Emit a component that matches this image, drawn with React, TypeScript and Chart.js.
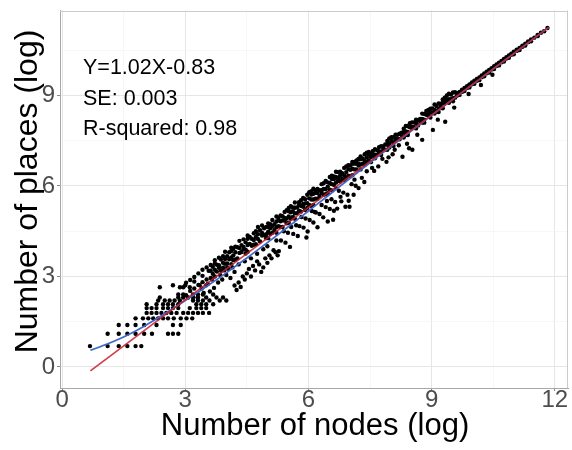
import React, { useEffect, useRef } from "react";
import { Chart, registerables } from "chart.js";

Chart.register(...registerables);

const FONT = '"Liberation Sans", Arial, Helvetica, sans-serif';

// axis ticks
const xTickValues = [0, 3, 6, 9, 12];
const yTickValues = [0, 3, 6, 9];
const xMinorValues = [1.5, 4.5, 7.5, 10.5];
const yMinorValues = [1.5, 4.5, 7.5, 10.5];

// texts
const xTitle = "Number of nodes (log)";
const yTitle = "Number of places (log)";
const annotationLines = ["Y=1.02X-0.83", "SE: 0.003", "R-squared: 0.98"];

// low-count lattice: [places (log), nodes (log) list]
const latticeRows: [number, number[]][] = [
  [0.69, [0.68, 1.11, 1.38, 1.59, 1.79, 1.93]],
  [1.1, [1.11, 1.38, 1.59, 1.79, 2.0, 2.19, 2.58, 2.7, 2.83]],
  [1.39, [1.38, 1.59, 1.79, 2.0, 2.3, 2.7, 2.89]],
  [1.61, [1.79, 1.97, 2.1, 2.22, 2.34, 2.46, 2.58, 2.72, 2.89, 3.03, 3.17]],
  [1.79, [2.06, 2.18, 2.3, 2.42, 2.54, 2.66, 2.79, 2.95, 3.07, 3.19, 3.31, 3.43, 3.58]],
  [1.95, [2.06, 2.18, 2.3, 2.46, 2.58, 2.7, 2.83, 3.11, 3.27, 3.39, 3.51]],
  [2.08, [2.06, 2.3, 2.46, 2.58, 2.7, 2.83, 3.27, 3.39, 3.51, 3.68]],
  [2.2, [2.34, 2.5, 2.62, 2.74, 2.87, 3.19, 3.31, 3.43, 3.59, 3.84, 4.0]],
  [2.3, [2.38, 2.83, 2.95, 3.07, 3.19, 3.31, 3.51, 3.76, 3.92]],
  [2.4, [2.83, 2.95, 3.19, 3.31, 3.43, 3.68]],
  [2.64, [2.38, 2.87, 2.95, 3.11]],
  [2.71, [2.7, 3.0, 3.35, 3.51]],
];

// main band: [nodes (log), places (log) list]
const bandColumns: [number, number[]][] = [
  [3.02, [2.38, 2.79]], [3.12, [2.52, 2.88]], [3.22, [2.6, 2.83, 2.98]], [3.32, [2.72, 3.1]],
  [3.42, [2.81, 3.02, 3.22]], [3.52, [2.9, 3.3]], [3.57, [3.19]],
  [3.62, [2.95, 3.19, 3.38]], [3.67, [3.09, 3.32]], [3.72, [3.0, 3.22, 3.43, 3.54]],
  [3.77, [3.16, 3.39]], [3.82, [3.29, 3.37, 3.62]], [3.87, [3.19, 3.56]],
  [3.92, [3.29, 3.45, 3.67]], [3.97, [3.42, 3.58, 3.82]], [4.02, [3.3, 3.43, 3.67]],
  [4.07, [3.57, 3.8]], [4.12, [3.41, 3.63, 3.84, 3.95]], [4.17, [3.54, 3.7, 3.92]],
  [4.22, [3.56, 3.8, 3.99]], [4.27, [3.6, 3.97]], [4.32, [3.78, 3.94, 4.18]],
  [4.37, [3.81, 4.04]], [4.42, [3.9, 3.98, 4.23]], [4.47, [3.76, 3.89, 4.13]],
  [4.52, [3.82, 4.04, 4.25, 4.36]], [4.57, [4.08, 4.31]], [4.62, [4.02, 4.25]],
  [4.67, [4.05, 4.21, 4.43]], [4.72, [4.07, 4.31, 4.5]], [4.77, [4.24, 4.4, 4.64]],
  [4.82, [4.16, 4.53]], [4.87, [4.36, 4.44, 4.69]], [4.92, [4.37, 4.6]],
  [4.97, [4.27, 4.4, 4.64]],
  [5.02, [4.27, 4.48, 4.65, 4.76]], [5.07, [4.41, 4.6, 4.73]], [5.12, [4.45, 4.67, 4.87]],
  [5.17, [4.54, 4.73]], [5.22, [4.45, 4.63, 4.82, 4.99]], [5.27, [4.67, 4.86, 4.95]],
  [5.32, [4.64, 4.83, 5.02]], [5.37, [4.64, 4.86, 5.0]], [5.42, [4.85, 4.94, 5.14]],
  [5.47, [4.76, 4.92, 5.2]], [5.52, [4.78, 4.99, 5.16, 5.27]], [5.57, [4.91, 5.13, 5.33]],
  [5.62, [4.97, 5.16, 5.29]], [5.67, [4.91, 5.09, 5.28, 5.45]], [5.72, [5.1, 5.29]],
  [5.77, [5.18, 5.37, 5.46]], [5.82, [5.15, 5.34, 5.53]], [5.87, [5.31, 5.4, 5.6]],
  [5.92, [5.2, 5.42, 5.56]], [5.97, [5.27, 5.43, 5.71]], [6.02, [5.37, 5.59, 5.79]],
  [6.07, [5.34, 5.55, 5.72, 5.83]], [6.12, [5.37, 5.55, 5.74, 5.91]], [6.17, [5.58, 5.77, 5.86]],
  [6.22, [5.58, 5.77, 5.9]], [6.27, [5.67, 5.86]], [6.32, [5.77, 5.86, 6.06]],
  [6.37, [5.71, 5.9, 6.09]], [6.42, [5.73, 5.89, 6.17]], [6.47, [5.76, 5.98, 6.12]],
  [6.52, [5.88, 6.1, 6.3]], [6.57, [5.85, 6.06, 6.23, 6.34]], [6.62, [6.04, 6.23, 6.32]],
  [6.67, [5.93, 6.11, 6.3, 6.47]], [6.72, [6.17, 6.26, 6.46]], [6.77, [6.15, 6.34, 6.47]],
  [6.82, [6.23, 6.42]], [6.87, [6.19, 6.35, 6.6]], [6.92, [6.27, 6.46, 6.65]],
  [6.97, [6.34, 6.56, 6.69]], [7.02, [6.32, 6.54, 6.68]], [7.07, [6.36, 6.57, 6.74, 6.8]],
  [7.12, [6.55, 6.74, 6.8]], [7.17, [6.55, 6.74, 6.85]], [7.22, [6.68, 6.75, 6.9]],
  [7.27, [6.55, 6.71, 6.89, 6.98]], [7.32, [6.74, 6.91]], [7.37, [6.7, 6.84, 7.05]],
  [7.42, [6.78, 6.95, 7.1]], [7.47, [6.85, 7.04, 7.13]],
  [7.52, [6.79, 6.96, 7.08]], [7.57, [7.03, 7.16]], [7.62, [6.92, 7.04, 7.22]],
  [7.67, [7.04, 7.19]], [7.72, [7.1, 7.15, 7.29]], [7.77, [7.03, 7.13, 7.32]],
  [7.82, [7.23, 7.31]], [7.87, [7.2, 7.38]], [7.92, [7.2, 7.37, 7.49]],
  [7.97, [7.28, 7.4, 7.58]], [8.02, [7.49, 7.62]], [8.07, [7.33, 7.43, 7.62]],
  [8.12, [7.51, 7.56, 7.7]], [8.17, [7.55, 7.7]], [8.22, [7.55, 7.73]],
  [8.27, [7.69, 7.77]], [8.32, [7.61, 7.78, 7.9]], [8.37, [7.69, 7.81, 7.99]],
  [8.42, [7.69, 7.79, 7.98]], [8.47, [7.95, 8.08]], [8.52, [7.92, 7.97, 8.11]],
  [8.57, [7.96, 8.11]], [8.62, [7.91, 8.08, 8.2]], [8.67, [8.01, 8.19]],
  [8.72, [8.14, 8.22]], [8.77, [8.1, 8.22, 8.4]], [8.82, [8.1, 8.2, 8.39]],
  [8.87, [8.36, 8.49]], [8.92, [8.33, 8.38, 8.52]], [8.97, [8.27, 8.44, 8.56]],
  [9.02, [8.42, 8.57]], [9.07, [8.4, 8.52, 8.7]], [9.12, [8.47, 8.65]],
  [9.17, [8.45, 8.55, 8.74]], [9.22, [8.65, 8.73]], [9.27, [8.58, 8.75, 8.87]],
  [9.32, [8.74, 8.79, 8.93]], [9.37, [8.87, 9.0]], [9.42, [8.76, 8.88, 9.06]],
  [9.47, [8.88, 9.03]], [9.52, [8.81, 8.91, 9.1]], [9.57, [8.93, 9.11]],
  [9.62, [9.0, 9.08]], [9.68, [9.02, 9.12]], [9.74, [9.12, 9.19]], [9.8, [9.15, 9.25]],
  [9.86, [9.25, 9.31]], [9.92, [9.27, 9.37]], [9.98, [9.37, 9.43]], [10.04, [9.39, 9.49]],
  [10.1, [9.49, 9.55]], [10.16, [9.51, 9.6]], [10.22, [9.61, 9.67]], [10.28, [9.64, 9.73]],
  [10.34, [9.74, 9.79]], [10.4, [9.76, 9.85]], [10.46, [9.86, 9.91]], [10.52, [9.88, 9.97]],
  [10.58, [9.98, 10.03]], [10.64, [10.0, 10.09]], [10.7, [10.1, 10.15]], [10.76, [10.13, 10.21]],
  [10.82, [10.23, 10.27]], [10.88, [10.25, 10.33]], [10.94, [10.35, 10.39]], [11.0, [10.37, 10.45]],
  [11.07, [10.48, 10.52]], [11.14, [10.51, 10.58]], [11.21, [10.62, 10.65]], [11.28, [10.66, 10.72]],
  [11.35, [10.77, 10.79]], [11.42, [10.8, 10.86]], [11.5, [10.92]], [11.58, [10.97, 11.01]],
  [11.66, [11.08]], [11.74, [11.13]], [11.82, [11.24]],
];

// scattered points below the band: [nodes (log), places (log)]
const lowerCloud: [number, number][] = [
  [3.3, 2.3], [3.45, 2.45], [3.6, 2.5], [3.7, 2.62], [3.55, 2.75], [3.8, 2.8], [3.9, 2.9],
  [4.0, 3.05], [4.1, 2.95], [4.2, 2.7], [4.25, 2.55], [4.3, 2.8], [4.35, 2.65], [4.4, 3.0],
  [4.45, 2.9], [4.5, 3.1], [4.55, 3.25], [4.6, 3.0], [4.2, 3.15], [4.65, 3.35], [4.7, 3.2],
  [4.75, 3.5], [4.8, 3.4], [4.9, 3.3], [4.95, 3.6], [5.0, 3.45], [5.05, 3.7], [3.95, 3.2],
  [4.05, 3.25], [4.15, 3.3], [4.3, 3.4], [4.45, 3.5], [4.6, 3.6], [4.75, 3.75], [4.9, 3.9],
  [5.0, 4.0], [4.85, 3.15], [5.1, 3.6], [5.2, 3.8], [5.25, 3.7], [3.4, 2.6], [3.65, 2.9],
  [3.85, 3.05],
  [5.15, 3.87], [5.22, 4.19], [5.28, 3.84], [5.33, 4.19], [5.4, 4.5], [5.44, 4.12], [5.5, 4.45],
  [5.55, 3.98], [5.58, 4.64], [5.63, 4.41], [5.7, 4.7], [5.74, 4.34], [5.78, 4.67], [5.83, 4.97],
  [5.88, 4.62], [5.93, 4.92], [5.98, 4.49], [6.03, 4.87], [6.08, 5.17], [6.12, 4.79], [6.18, 5.12],
  [6.22, 4.63], [6.27, 5.07], [6.32, 5.37], [6.36, 4.96], [6.42, 5.3], [6.47, 4.82], [6.52, 5.24],
  [6.56, 5.56], [6.6, 4.88], [6.65, 5.47], [6.7, 5.25], [6.74, 5.84], [6.8, 5.49], [6.85, 5.78],
  [6.9, 5.31], [6.95, 5.71], [7.0, 5.31], [7.05, 6.06], [7.1, 5.71], [7.15, 6.01], [7.22, 5.93],
  [7.3, 6.27], [7.36, 6.13], [7.42, 6.49], [5.95, 4.29], [6.15, 5.14], [6.45, 5.5], [6.62, 5.18],
  [6.78, 5.64], [6.98, 5.51], [7.12, 6.21],
  [7.6, 6.5], [7.7, 6.65], [7.9, 6.8], [7.95, 6.95], [8.05, 7.05], [8.1, 7.2], [8.29, 6.97],
  [8.4, 7.4], [8.45, 7.25], [8.53, 7.2], [8.65, 7.7], [8.77, 7.53], [9.03, 7.86], [9.15, 8.2],
  [9.33, 8.13], [9.55, 8.6], [9.9, 9.05], [10.2, 9.35], [10.48, 9.69], [7.55, 6.6], [7.8, 6.9],
  [8.2, 7.35],
];

// linear fit (red) endpoints
const fitX = [0.69, 11.85];
const fitY = [-0.13, 11.26];

// smooth (blue) curve
const smoothX = [0.69, 1.1, 1.6, 2.0, 2.5, 3.0, 3.5, 4.0, 4.5, 5.0, 5.5, 6.0, 6.5, 7.0, 7.5, 8.0, 9.0, 10.0, 11.0, 11.85];
const smoothY = [0.55, 0.76, 1.06, 1.35, 1.76, 2.2, 2.65, 3.12, 3.61, 4.12, 4.64, 5.17, 5.7, 6.24, 6.77, 7.3, 8.34, 9.37, 10.39, 11.26];

const isIn = (arr: number[], v: number) => arr.some((a) => Math.abs(a - v) < 1e-6);

export default function App() {
  const ref = useRef<HTMLCanvasElement | null>(null);

  useEffect(() => {
    document.body.style.margin = "0";
    const canvas = ref.current;
    if (!canvas) return;

    const scatterData = [
      ...latticeRows.flatMap(([y, xs]) => xs.map((x) => ({ x, y }))),
      ...bandColumns.flatMap(([x, ys]) => ys.map((y) => ({ x, y }))),
      ...lowerCloud.map(([x, y]) => ({ x, y })),
    ];
    const fitData = fitX.map((x, i) => ({ x, y: fitY[i] }));
    const smoothData = smoothX.map((x, i) => ({ x, y: smoothY[i] }));

    const decor = {
      id: "decor",
      beforeDatasetsDraw(chart: any) {
        const { ctx, chartArea: a } = chart;
        ctx.save();
        ctx.strokeStyle = "#cccccc";
        ctx.lineWidth = 1;
        ctx.beginPath();
        ctx.moveTo(a.left, Math.round(a.top) + 0.5);
        ctx.lineTo(a.right, Math.round(a.top) + 0.5);
        ctx.moveTo(Math.round(a.right) - 0.5, a.top);
        ctx.lineTo(Math.round(a.right) - 0.5, a.bottom);
        ctx.stroke();
        ctx.restore();
      },
      afterDraw(chart: any) {
        const { ctx, chartArea: a } = chart;
        ctx.save();
        ctx.fillStyle = "#000";
        ctx.textAlign = "left";
        ctx.textBaseline = "alphabetic";
        ctx.font = `21.5px ${FONT}`;
        annotationLines.forEach((t, i) => {
          ctx.fillText(t, a.left + 23, a.top + 63.5 + i * 30.5);
        });
        ctx.textAlign = "center";
        ctx.font = `31px ${FONT}`;
        ctx.fillText(xTitle, (a.left + a.right) / 2 + 1, 435);
        ctx.translate(36.5, 191.5);
        ctx.rotate(-Math.PI / 2);
        ctx.font = `32px ${FONT}`;
        ctx.fillText(yTitle, 0, 0);
        ctx.restore();
      },
    };

    const gridColor = (major: number[]) => (c: any) =>
      c.tick && isIn(major, c.tick.value) ? "#e6e6e6" : "#f1f1f1";
    const gridWidth = (major: number[]) => (c: any) =>
      c.tick && isIn(major, c.tick.value) ? 1 : 0.6;
    const tickColor = (major: number[]) => (c: any) =>
      c.tick && isIn(major, c.tick.value) ? "#888888" : "rgba(0,0,0,0)";

    const chart = new Chart(canvas, {
      type: "scatter",
      data: {
        datasets: [
          {
            label: "fit",
            data: fitData,
            showLine: true,
            borderColor: "rgba(200,30,45,0.85)",
            borderWidth: 1.7,
            pointRadius: 0,
            fill: false,
          },
          {
            label: "smooth",
            data: smoothData,
            showLine: true,
            borderColor: "#3f67c9",
            borderWidth: 1.7,
            pointRadius: 0,
            fill: false,
            cubicInterpolationMode: "monotone",
          },
          {
            label: "points",
            data: scatterData,
            pointRadius: 2.2,
            pointBackgroundColor: "#000",
            pointBorderWidth: 0,
            borderWidth: 0,
          },
        ],
      },
      options: {
        responsive: false,
        devicePixelRatio: 1,
        animation: false,
        events: [],
        layout: { padding: { top: 10.5, right: 3, left: 0, bottom: 0 } },
        plugins: {
          legend: { display: false },
          tooltip: { enabled: false },
        },
        scales: {
          x: {
            type: "linear",
            min: -0.05,
            max: 12.32,
            afterBuildTicks: (s: any) => {
              s.ticks = [...xTickValues, ...xMinorValues]
                .sort((p, q) => p - q)
                .map((v) => ({ value: v }));
            },
            afterFit: (s: any) => {
              s.height = 62;
              s.paddingLeft = 0;
              s.paddingRight = 0;
            },
            ticks: {
              autoSkip: false,
              maxRotation: 0,
              minRotation: 0,
              padding: 0,
              color: "#4d4d4d",
              font: { family: FONT, size: 24, lineHeight: 0.8 },
              callback: (v: any) => (isIn(xTickValues, Number(v)) ? String(v) : ""),
            },
            grid: {
              color: gridColor(xTickValues),
              lineWidth: gridWidth(xTickValues),
              tickLength: 3,
              tickColor: tickColor(xTickValues),
            },
            border: { display: true, color: "#a8a8a8", width: 1 },
          },
          y: {
            type: "linear",
            min: -0.7,
            max: 11.82,
            afterBuildTicks: (s: any) => {
              s.ticks = [...yTickValues, ...yMinorValues]
                .sort((p, q) => p - q)
                .map((v) => ({ value: v }));
            },
            afterFit: (s: any) => {
              s.width = 60;
              s.paddingTop = 0;
              s.paddingBottom = 0;
            },
            ticks: {
              autoSkip: false,
              padding: 2,
              color: "#4d4d4d",
              font: { family: FONT, size: 24 },
              callback: (v: any) => (isIn(yTickValues, Number(v)) ? String(v) : ""),
            },
            grid: {
              color: gridColor(yTickValues),
              lineWidth: gridWidth(yTickValues),
              tickLength: 3,
              tickColor: tickColor(yTickValues),
            },
            border: { display: true, color: "#a8a8a8", width: 1 },
          },
        },
      },
      plugins: [decor],
    } as any);

    return () => chart.destroy();
  }, []);

  return (
    <div style={{ position: "absolute", left: 0, top: 0, width: 572, height: 450, background: "#fff" }}>
      <canvas ref={ref} width={572} height={450} style={{ display: "block" }} />
    </div>
  );
}
